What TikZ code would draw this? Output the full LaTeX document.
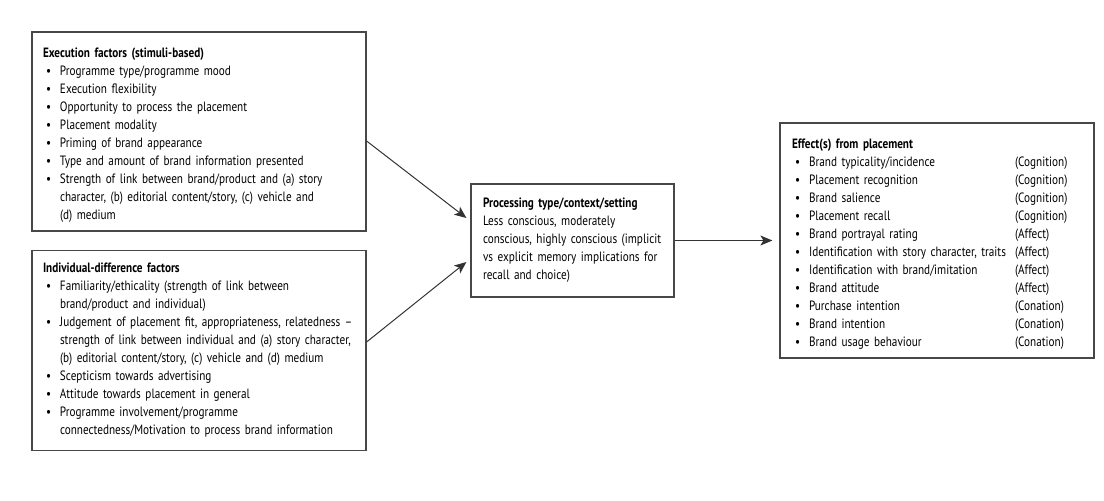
\documentclass[tikz,border=0pt]{standalone}
\usepackage{fontspec}
\setmainfont{PT Sans}[FakeStretch=0.83]
\usetikzlibrary{arrows.meta,calc}
\newcommand{\bl}[1]{\mbox{\makebox[17pt][l]{\hspace{3pt}\textbullet}#1}}
\newcommand{\cl}[1]{\mbox{\hspace*{17pt}#1}}
\newcommand{\hd}[1]{\mbox{\textbf{#1}}}
\newcommand{\pl}[1]{\mbox{#1}}
\begin{document}
\begin{tikzpicture}[x=1pt,y=-1pt,
  box/.style={draw=black!72, line width=1.2pt, inner xsep=0pt, inner ysep=0pt, align=left,
    font=\fontsize{13.5}{18}\selectfont, text=black},
  arr/.style={draw=black!80, line width=1pt, -{Stealth[length=12pt,width=10pt,inset=3pt]}}]
\useasboundingbox (0,0) rectangle (1104,501);
\node[box, minimum width=334pt, minimum height=199pt, text width=312pt] (exec) at (199,131.5) {%
\rule{0pt}{16pt}\hd{Execution factors (stimuli-based)}\\
\bl{Programme type/programme mood}\\
\bl{Execution flexibility}\\
\bl{Opportunity to process the placement}\\
\bl{Placement modality}\\
\bl{Priming of brand appearance}\\
\bl{Type and amount of brand information presented}\\
\bl{Strength of link between brand/product and (a) story}\\
\cl{character, (b) editorial content/story, (c) vehicle and}\\
\cl{(d) medium}};
\node[box, minimum width=334pt, minimum height=200pt, text width=312pt] (indiv) at (199,350.5) {%
\hd{Individual-difference factors}\\
\bl{Familiarity/ethicality (strength of link between}\\
\cl{brand/product and individual)}\\
\bl{Judgement of placement fit, appropriateness, relatedness --}\\
\cl{strength of link between individual and (a) story character,}\\
\cl{(b) editorial content/story, (c) vehicle and (d) medium}\\
\bl{Scepticism towards advertising}\\
\bl{Attitude towards placement in general}\\
\bl{Programme involvement/programme}\\
\cl{connectedness/Motivation to process brand information}};
\node[box, minimum width=203pt, minimum height=113pt, text width=179pt] (proc) at (572.5,240.5) {%
\hd{Processing type/context/setting}\\
\pl{Less conscious, moderately}\\
\pl{conscious, highly conscious (implicit}\\
\pl{vs explicit memory implications for}\\
\pl{recall and choice)}};
\node[box, minimum width=314pt, minimum height=235pt, text width=290pt] (eff) at (937,240.5) {%
\rule{0pt}{16pt}\hd{Effect(s) from placement}\\
\bl{\makebox[206pt][l]{Brand typicality/incidence}(Cognition)}\\
\bl{\makebox[206pt][l]{Placement recognition}(Cognition)}\\
\bl{\makebox[206pt][l]{Brand salience}(Cognition)}\\
\bl{\makebox[206pt][l]{Placement recall}(Cognition)}\\
\bl{\makebox[206pt][l]{Brand portrayal rating}(Affect)}\\
\bl{\makebox[206pt][l]{Identification with story character, traits}(Affect)}\\
\bl{\makebox[206pt][l]{Identification with brand/imitation}(Affect)}\\
\bl{\makebox[206pt][l]{Brand attitude}(Affect)}\\
\bl{\makebox[206pt][l]{Purchase intention}(Conation)}\\
\bl{\makebox[206pt][l]{Brand intention}(Conation)}\\
\bl{\makebox[206pt][l]{Brand usage behaviour}(Conation)}};
\draw[arr] ([yshift=-9.5pt]exec.east) -- ([xshift=-4pt,yshift=22.5pt]proc.west);
\draw[arr] ([yshift=8.5pt]indiv.east) -- ([xshift=-4pt,yshift=-21.5pt]proc.west);
\draw[arr] (proc.east) -- ([xshift=-7pt]eff.west);
\end{tikzpicture}
\end{document}
